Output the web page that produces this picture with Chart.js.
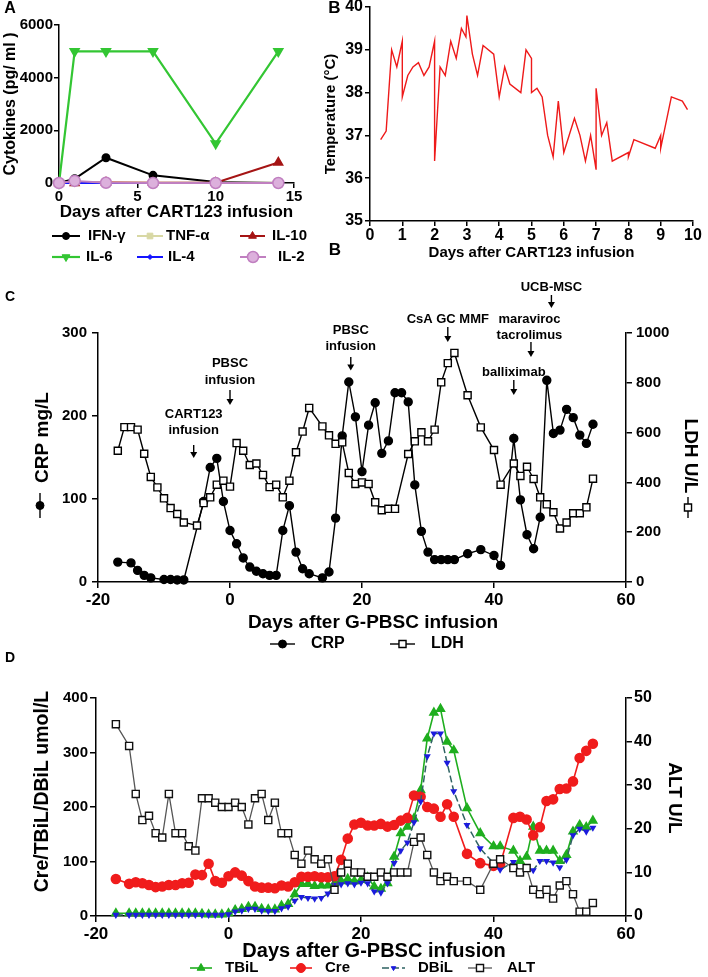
<!DOCTYPE html>
<html><head><meta charset="utf-8">
<script src="https://cdn.jsdelivr.net/npm/chart.js@4.4.1/dist/chart.umd.min.js"></script>
<style>
html,body{margin:0;padding:0;background:#fff;}
body{width:708px;height:977px;position:relative;overflow:hidden;}
canvas{position:absolute;}
</style></head><body>
<canvas id="cA" width="320" height="270" style="left:0px;top:0px;width:320px;height:270px"></canvas>
<canvas id="cB" width="388" height="280" style="left:320px;top:-10px;width:388px;height:280px"></canvas>
<canvas id="cC" width="708" height="390" style="left:0px;top:270px;width:708px;height:390px"></canvas>
<canvas id="cD" width="708" height="332" style="left:0px;top:645px;width:708px;height:332px"></canvas>
<script>
// ---------- Panel A data ----------
const aDays = [0, 1, 3, 6, 10, 14];
const ifnG  = [0, 160, 960, 290, 40, 0];
const tnfA  = [0, 20, 10, 10, 10, 10];
const il10  = [0, 0, 20, 10, 10, 780];
const il6   = [0, 5000, 5000, 5000, 1500, 5000];
const il4   = [0, 10, 0, 0, 0, 0];
const il2   = [0, 80, 10, 0, 0, 0];

// ---------- Panel B data ----------
const tempDays = [0.33,0.5,0.67,0.83,1.0,1.0,1.17,1.33,1.5,1.67,1.83,2.0,2.0,2.17,2.33,2.5,2.67,2.83,2.97,3.0,3.17,3.33,3.5,3.83,4.0,4.17,4.33,4.67,4.83,5.0,5.0,5.17,5.33,5.5,5.67,5.83,6.0,6.33,6.5,6.67,6.83,7.0,7.0,7.17,7.33,7.5,8.0,8.0,8.17,8.83,9.0,9.0,9.33,9.67,9.83];
const tempValues = [36.9,37.1,39.0,38.6,39.2,37.9,38.4,38.6,38.7,38.4,38.6,39.2,36.4,38.6,38.4,39.2,38.8,39.5,39.3,39.8,38.9,38.4,39.1,38.9,37.9,38.6,38.2,38.0,39.0,38.8,38.0,38.1,37.9,37.0,36.5,37.8,36.6,37.4,37.0,36.4,37.0,36.2,38.1,37.0,37.3,36.4,36.6,36.5,36.9,36.7,37.0,36.7,37.9,37.8,37.6];

// ---------- Panel C data ----------
const crpDays = [-17,-15,-14,-13,-12,-10,-9,-8,-7,-4,-3,-2,-1,0,1,2,3,4,5,6,7,8,9,10,11,12,14,15,16,17,18,19,20,21,22,23,24,25,26,27,28,29,30,31,32,33,34,36,38,40,41,43,44,45,46,47,48,49,50,51,52,53,54,55];
const crpValues = [24,23,14,8,5,3,3,2.5,2.5,97,138,149,97,62,46,29,18,13,10,8,8,62,92,36,16,10,5,12,77,176,241,199,133,189,216,155,170,228,228,217,117,61,36,27,27,27,27,34,39,32,20,173,99,57,40,78,243,179,183,208,198,177,167,190];
const ldhDays = [-17,-16,-15,-14,-13,-12,-11,-10,-9,-8,-7,-5,-4,-3,-2,-1,0,1,2,3,4,5,6,7,8,9,10,11,12,14,15,16,17,18,19,20,21,22,23,24,25,27,28,29,30,31,32,33,34,36,38,40,41,43,44,45,46,47,48,49,50,51,52,53,54,55];
const ldhValues = [527,622,622,612,515,422,380,336,297,273,239,227,317,340,391,407,383,558,527,470,476,430,381,391,340,407,521,604,699,625,589,555,561,438,394,400,394,320,288,294,294,514,565,601,565,612,802,879,920,750,621,530,391,476,426,463,414,340,312,280,215,239,276,276,300,415];

// ---------- Panel D data ----------
const dDays = [-17,-15,-14,-13,-12,-11,-10,-9,-8,-7,-6,-5,-4,-3,-2,-1,0,1,2,3,4,5,6,7,8,9,10,11,12,13,14,15,16,17,18,19,20,21,22,23,24,25,26,27,28,29,30,31,32,33,34,36,38,40,41,43,44,45,46,47,48,49,50,51,52,53,54,55];
const tbil = [5,5,5,5,5,5,5,5,5,5,5,5,4,3,3,3,5,11,13,17,17,13,12,12,19,22,40,59,59,55,56,56,60,64,68,64,66,71,54,50,60,109,152,164,179,231,326,373,380,320,304,198,152,128,128,120,101,109,164,120,120,120,101,112,155,167,163,175];
const cre  = [68,59,62,60,57,53,54,57,57,60,61,76,75,96,64,61,73,80,74,64,54,52,52,51,56,54,62,72,72,73,71,71,73,103,142,168,171,166,166,169,164,167,175,180,221,219,200,197,182,205,182,114,97,92,94,180,182,177,148,163,211,214,233,234,247,290,303,316];
const dbil = [2,2,2,2,2,2,2,2,2,2,2,2,2,2,2,2,3,8,10,13,13,10,9,9,14,17,28,35,33,32,33,41,57,58,60,58,61,60,45,43,60,97,120,135,172,210,293,335,335,281,229,167,124,97,85,99,81,90,84,101,101,98,89,103,148,160,155,162];
const alt  = [44,39,28,22,23,19,18,28,19,19,16,15,27,27,26,25,25,26,25,21,27,28,22,26,19,19,14,12,15,13,12,13,6,10,12,10,10,9,9,10,9,10,10,10,17,18,14,10,8,9,8,8,6,12,13,11,10,11,6,5,6,4,7,8,5,1,1,3];

const FONT = "'Liberation Sans', Arial, Helvetica, sans-serif";
Chart.defaults.font.family = FONT;
Chart.defaults.font.weight = 'bold';
Chart.defaults.color = '#000';

const pts = (xs, ys) => xs.map((x, i) => ({x: x, y: ys[i]}));

function drawMarker(ctx, style, r, rot, x, y) {
  ctx.beginPath();
  const rad = (rot || 0) * Math.PI / 180;
  if (style === 'circle') {
    ctx.arc(x, y, r, 0, Math.PI * 2);
  } else if (style === 'rect') {
    const s = Math.SQRT1_2 * r;
    ctx.rect(x - s, y - s, 2 * s, 2 * s);
  } else if (style === 'rectRot') {
    ctx.moveTo(x, y - r); ctx.lineTo(x + r, y); ctx.lineTo(x, y + r); ctx.lineTo(x - r, y);
  } else if (style === 'triangle') {
    let a = rad;
    ctx.moveTo(x + Math.sin(a) * r, y - Math.cos(a) * r);
    a += 2 * Math.PI / 3;
    ctx.lineTo(x + Math.sin(a) * r, y - Math.cos(a) * r);
    a += 2 * Math.PI / 3;
    ctx.lineTo(x + Math.sin(a) * r, y - Math.cos(a) * r);
  }
  ctx.closePath();
  ctx.fill();
  ctx.stroke();
}

const decor = {
  id: 'decor',
  afterDraw(chart, args, o) {
    const ctx = chart.ctx;
    const sx = chart.scales.x;
    ctx.save();
    ctx.fillStyle = '#000'; ctx.strokeStyle = '#000';
    (o.texts || []).forEach(t => {
      ctx.save();
      ctx.fillStyle = '#000';
      ctx.font = 'bold ' + t.size + 'px ' + FONT;
      ctx.textAlign = t.align || 'center';
      ctx.textBaseline = 'middle';
      ctx.translate(t.x, t.y);
      if (t.rot) ctx.rotate(t.rot * Math.PI / 180);
      ctx.fillText(t.text, 0, 0);
      ctx.restore();
    });
    (o.notes || []).forEach(n => {
      const x = sx.getPixelForValue(n.day);
      ctx.fillStyle = '#000'; ctx.strokeStyle = '#000';
      ctx.font = 'bold ' + (n.size || 13) + 'px ' + FONT;
      ctx.textAlign = 'center'; ctx.textBaseline = 'middle';
      n.lines.forEach((ln, i) => ctx.fillText(ln, x + (n.tdx || 0), n.ty[i]));
      ctx.lineWidth = 1.4; ctx.setLineDash([]);
      ctx.beginPath(); ctx.moveTo(x, n.a[0]); ctx.lineTo(x, n.a[1] - 4); ctx.stroke();
      ctx.beginPath(); ctx.moveTo(x - 3.5, n.a[1] - 6); ctx.lineTo(x + 3.5, n.a[1] - 6); ctx.lineTo(x, n.a[1]); ctx.closePath(); ctx.fill();
    });
    const styleOf = ds => ({
      line: ds.borderColor, lw: ds.borderWidth || 1.5, dash: ds.borderDash || [],
      fill: ds.pointBackgroundColor || ds.backgroundColor || ds.borderColor,
      stroke: ds.pointBorderColor || ds.borderColor,
      pbw: ds.pointBorderWidth || 1, ps: ds.pointStyle || 'circle',
      pr: ds.pointRadius, rot: ds.pointRotation || 0
    });
    (o.legend || []).forEach(l => {
      const s = styleOf(chart.data.datasets[l.ds]);
      ctx.save();
      ctx.strokeStyle = s.line; ctx.lineWidth = s.lw; ctx.setLineDash(s.dash);
      ctx.beginPath(); ctx.moveTo(l.x1, l.y); ctx.lineTo(l.x2, l.y); ctx.stroke();
      ctx.setLineDash([]);
      ctx.fillStyle = s.fill; ctx.strokeStyle = s.stroke; ctx.lineWidth = s.pbw;
      drawMarker(ctx, s.ps, l.r || s.pr, s.rot, (l.x1 + l.x2) / 2, l.y);
      ctx.fillStyle = '#000';
      ctx.font = 'bold ' + l.size + 'px ' + FONT;
      ctx.textAlign = 'left'; ctx.textBaseline = 'middle';
      ctx.fillText(chart.data.datasets[l.ds].label, l.tx, l.y);
      ctx.restore();
    });
    (o.marks || []).forEach(m => {
      const s = styleOf(chart.data.datasets[m.ds]);
      ctx.save();
      ctx.strokeStyle = s.line; ctx.lineWidth = s.lw;
      ctx.beginPath(); ctx.moveTo(m.x, m.y1); ctx.lineTo(m.x, m.y2); ctx.stroke();
      ctx.fillStyle = s.fill; ctx.strokeStyle = s.stroke; ctx.lineWidth = s.pbw;
      drawMarker(ctx, s.ps, s.pr, s.rot, m.x, (m.y1 + m.y2) / 2);
      ctx.restore();
    });
    ctx.restore();
  }
};
Chart.register(decor);

function axis(o) {
  const a = {
    type: 'linear', min: o.min, max: o.max, position: o.position,
    ticks: { stepSize: o.step, font: { size: o.tsize, weight: 'bold' }, color: '#000', padding: o.tpad, callback: v => String(v) },
    grid: { display: true, drawOnChartArea: false, drawTicks: true, tickLength: o.tl || 5, color: '#000', lineWidth: 1.5 },
    border: { display: true, color: '#000', width: 1.5 },
    afterFit: o.fit
  };
  if (o.title) a.title = { display: true, text: o.title, font: { size: o.fsize, weight: 'bold' }, color: '#000', padding: o.titlePad };
  return a;
}
const base = {
  responsive: false, animation: false, events: [],
  plugins: { legend: { display: false }, tooltip: { enabled: false } }
};

// ---------- Chart A ----------
new Chart(document.getElementById('cA'), {
  type: 'line',
  data: { datasets: [
    { label: 'IFN-γ', data: pts(aDays, ifnG), borderColor: '#000', backgroundColor: '#000', borderWidth: 2, pointStyle: 'circle', pointRadius: 3.5, clip: false, order: 5 },
    { label: 'TNF-α', data: pts(aDays, tnfA), borderColor: '#d8d8a4', backgroundColor: '#d8d8a4', borderWidth: 2, pointStyle: 'rect', pointRadius: 4, clip: false, order: 4 },
    { label: 'IL-10', data: pts(aDays, il10), borderColor: '#a51414', backgroundColor: '#a51414', borderWidth: 2, pointStyle: 'triangle', pointRadius: 4.5, clip: false, order: 3 },
    { label: 'IL-6', data: pts(aDays, il6), borderColor: '#33c633', backgroundColor: '#33c633', borderWidth: 2.2, pointStyle: 'triangle', pointRotation: 180, pointRadius: 4.5, clip: false, order: 2 },
    { label: 'IL-4', data: pts(aDays, il4), borderColor: '#1414ff', backgroundColor: '#1414ff', borderWidth: 2, pointStyle: 'rectRot', pointRadius: 2.5, clip: false, order: 1 },
    { label: 'IL-2', data: pts(aDays, il2), borderColor: '#c07fc0', backgroundColor: '#dcb0dc', pointBorderWidth: 1.5, borderWidth: 2, pointStyle: 'circle', pointRadius: 5.5, clip: false, order: 0 }
  ] },
  options: Object.assign({}, base, {
    layout: { padding: { top: 25, right: 26, left: 0, bottom: 0 } },
    scales: {
      x: axis({ min: 0, max: 15, step: 5, tsize: 15, tpad: 0, title: 'Days after CART123 infusion', fsize: 17, titlePad: { top: 0, bottom: 47.5 }, fit: s => { s.height = 87; } }),
      y: axis({ min: 0, max: 6000, step: 2000, tsize: 15, tpad: 1, title: 'Cytokines (pg/ ml )', fsize: 16, titlePad: { top: 0.5, bottom: 0 }, fit: s => { s.width = 59; } })
    },
    plugins: Object.assign({}, base.plugins, { decor: {
      texts: [{ text: 'A', x: 10, y: 9, size: 16 }],
      legend: [
        { ds: 0, x1: 52, x2: 80, y: 236, tx: 88, size: 15 },
        { ds: 1, x1: 137, x2: 163, y: 236, tx: 166, size: 15 },
        { ds: 2, x1: 240, x2: 265, y: 236, tx: 272, size: 15 },
        { ds: 3, x1: 52, x2: 80, y: 257, tx: 86, size: 15 },
        { ds: 4, x1: 137, x2: 163, y: 257, tx: 168, size: 15 },
        { ds: 5, x1: 240, x2: 266, y: 257, tx: 278, size: 15 }
      ]
    } })
  })
});

// ---------- Chart B ----------
new Chart(document.getElementById('cB'), {
  type: 'line',
  data: { datasets: [
    { label: 'Temperature', data: pts(tempDays, tempValues), borderColor: '#ee1a1a', borderWidth: 1.4, pointRadius: 0, tension: 0 }
  ] },
  options: Object.assign({}, base, {
    layout: { padding: { top: 17, right: 15, left: 0, bottom: 0 } },
    scales: {
      x: axis({ min: 0, max: 10, step: 1, tsize: 16, tpad: 0, title: 'Days after CART123 infusion', fsize: 15, titlePad: { top: 0, bottom: 8 }, fit: s => { s.height = 49; } }),
      y: axis({ min: 35, max: 40, step: 1, tsize: 16, tpad: 2, title: 'Temperature (°C)', fsize: 15, titlePad: { top: 2, bottom: 0 }, fit: s => { s.width = 50; } })
    },
    plugins: Object.assign({}, base.plugins, { decor: {
      texts: [{ text: 'B', x: 14.5, y: 18.5, size: 17 }, { text: 'B', x: 15, y: 260, size: 17 }]
    } })
  })
});

// ---------- Chart C ----------
new Chart(document.getElementById('cC'), {
  type: 'line',
  data: { datasets: [
    { label: 'CRP', data: pts(crpDays, crpValues), yAxisID: 'y', borderColor: '#000', backgroundColor: '#000', borderWidth: 1.4, pointStyle: 'circle', pointRadius: 4, clip: false, order: 1 },
    { label: 'LDH', data: pts(ldhDays, ldhValues), yAxisID: 'y1', borderColor: '#000', backgroundColor: '#fff', pointBackgroundColor: '#fff', pointBorderColor: '#000', pointBorderWidth: 1.4, borderWidth: 1.4, pointStyle: 'rect', pointRadius: 5, clip: false, order: 0 }
  ] },
  options: Object.assign({}, base, {
    layout: { padding: { top: 63, right: 0, left: 0, bottom: 0 } },
    scales: {
      x: axis({ min: -20, max: 60, step: 20, tsize: 17, tpad: 2, tl: 6, fit: s => { s.height = 78; } }),
      y: axis({ min: 0, max: 300, step: 100, tsize: 15, tpad: 5, tl: 6, position: 'left', fit: s => { s.width = 98; } }),
      y1: axis({ min: 0, max: 1000, step: 200, tsize: 15, tpad: 4, tl: 6, position: 'right', fit: s => { s.width = 82; } })
    },
    plugins: Object.assign({}, base.plugins, { decor: {
      texts: [
        { text: 'C', x: 10, y: 27, size: 14 },
        { text: 'CRP mg/L', x: 42.5, y: 167.5, size: 19, rot: -90 },
        { text: 'LDH U/L', x: 690, y: 186, size: 19, rot: 90 },
        { text: 'Days after G-PBSC infusion', x: 373, y: 353, size: 19 }
      ],
      marks: [ { ds: 0, x: 40, y1: 223, y2: 248 }, { ds: 1, x: 688, y1: 227, y2: 248 } ],
      notes: [
        { day: -5.5, lines: ['CART123', 'infusion'], ty: [144.5, 160.5], a: [175, 188] },
        { day: 0, lines: ['PBSC', 'infusion'], ty: [93.5, 110.5], a: [120, 135] },
        { day: 18.3, lines: ['PBSC', 'infusion'], ty: [60, 76.5], a: [87, 100.5] },
        { day: 33, lines: ['CsA GC MMF'], ty: [49.5], a: [57, 72] },
        { day: 45.6, lines: ['maraviroc', 'tacrolimus'], ty: [49, 65], tdx: -1.5, a: [72, 87] },
        { day: 43, lines: ['balliximab'], ty: [102], a: [110, 125] },
        { day: 48.7, lines: ['UCB-MSC'], ty: [17], a: [25, 38] }
      ],
      legend: [
        { ds: 0, x1: 270, x2: 295, y: 374, tx: 311, size: 16 },
        { ds: 1, x1: 390, x2: 415, y: 374, tx: 431, size: 16 }
      ]
    } })
  })
});

// ---------- Chart D ----------
new Chart(document.getElementById('cD'), {
  type: 'line',
  data: { datasets: [
    { label: 'TBiL', data: pts(dDays, tbil), yAxisID: 'y', borderColor: '#1fae1f', backgroundColor: '#1fae1f', borderWidth: 1.6, pointStyle: 'triangle', pointRadius: 4.5, clip: false, order: 3 },
    { label: 'Cre', data: pts(dDays, cre), yAxisID: 'y', borderColor: '#f01c1c', backgroundColor: '#f01c1c', borderWidth: 1.6, pointStyle: 'circle', pointRadius: 4.5, clip: false, order: 2 },
    { label: 'DBiL', data: pts(dDays, dbil), yAxisID: 'y', borderColor: '#2e6262', backgroundColor: '#1c1cdd', pointBackgroundColor: '#1c1cdd', pointBorderColor: '#1c1cdd', borderDash: [7, 3], borderWidth: 1.5, pointStyle: 'triangle', pointRotation: 180, pointRadius: 2.6, clip: false, order: 1 },
    { label: 'ALT', data: pts(dDays, alt), yAxisID: 'y1', borderColor: '#555', backgroundColor: '#fff', pointBackgroundColor: '#fff', pointBorderColor: '#111', pointBorderWidth: 1.4, borderWidth: 1.3, pointStyle: 'rect', pointRadius: 5, clip: false, order: 0 }
  ] },
  options: Object.assign({}, base, {
    layout: { padding: { top: 53, right: 0, left: 0, bottom: 0 } },
    scales: {
      x: axis({ min: -20, max: 60, step: 20, tsize: 17, tpad: 2, tl: 6, fit: s => { s.height = 61; } }),
      y: axis({ min: 0, max: 400, step: 100, tsize: 15, tpad: 2, tl: 6, position: 'left', fit: s => { s.width = 96; } }),
      y1: axis({ min: 0, max: 50, step: 10, tsize: 16, tpad: 2, tl: 6, position: 'right', fit: s => { s.width = 82; } })
    },
    plugins: Object.assign({}, base.plugins, { decor: {
      texts: [
        { text: 'D', x: 10, y: 13, size: 14 },
        { text: 'Cre/TBiL/DBiL umol/L', x: 42.5, y: 146.5, size: 19.5, rot: -90 },
        { text: 'ALT U/L', x: 674, y: 153, size: 19, rot: 90 },
        { text: 'Days after G-PBSC infusion', x: 374, y: 306, size: 20 }
      ],
      legend: [
        { ds: 0, x1: 190, x2: 212, y: 323, tx: 225, size: 15 },
        { ds: 1, x1: 290, x2: 312, y: 323, tx: 325, size: 15 },
        { ds: 2, x1: 382, x2: 405, y: 323, tx: 418, size: 15 },
        { ds: 3, x1: 468, x2: 492, y: 323, tx: 507, size: 15 }
      ]
    } })
  })
});
</script>
</body></html>
